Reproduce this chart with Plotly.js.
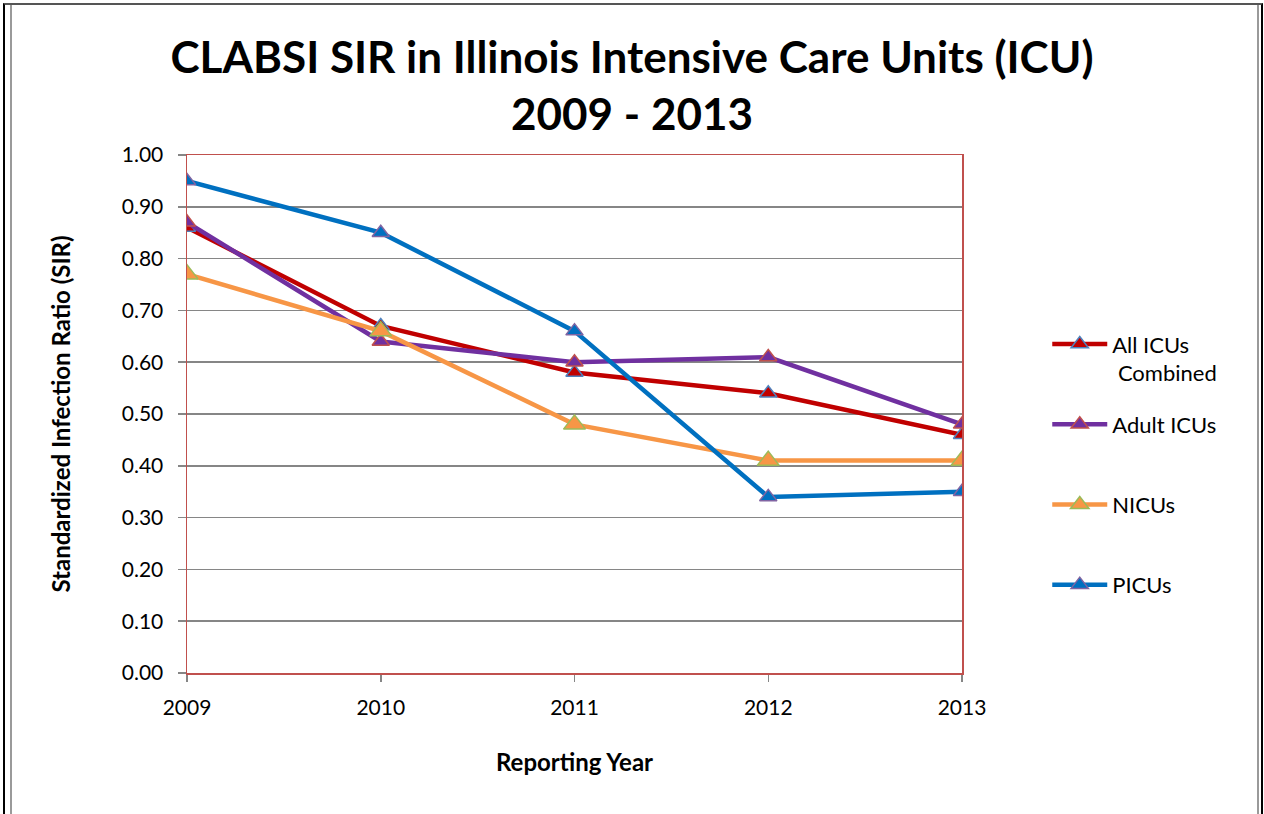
<!DOCTYPE html>
<html>
<head>
<meta charset="utf-8">
<script src="https://cdn.plot.ly/plotly-3.0.1.min.js"></script>
<style>
  html, body { margin: 0; padding: 0; background: #fff; }
  #wrap { position: relative; width: 1264px; height: 814px; overflow: hidden; }
  #chart { position: absolute; left: 0; top: 0; width: 1264px; height: 814px; }
  #outer { position: absolute; left: 3px; top: 3px; width: 1256px; height: 830px;
           border-left: 2px solid #000; border-right: 2px solid #000; border-top: 2px solid #555; pointer-events: none; }
  #inner { position: absolute; left: 10px; top: 5px; width: 1245px; height: 830px;
           border-left: 2px solid #9a9a9a; border-right: 2px solid #9a9a9a; pointer-events: none; }
</style>
</head>
<body>
<div id="wrap">
  <div id="chart"></div>
  <div id="outer"></div>
  <div id="inner"></div>
</div>
<script>
const years = [2009, 2010, 2011, 2012, 2013];
const yearLabels = ['2009', '2010', '2011', '2012', '2013'];
const allICUs = [0.86, 0.67, 0.58, 0.54, 0.46];
const adultICUs = [0.87, 0.64, 0.60, 0.61, 0.48];
const NICUs = [0.77, 0.66, 0.48, 0.41, 0.41];
const PICUs = [0.95, 0.85, 0.66, 0.34, 0.35];
const seriesNames = ['All ICUs<br>\u00a0Combined', 'Adult ICUs<br>\u00a0', 'NICUs<br>\u00a0', 'PICUs<br>\u00a0'];
const yTickVals = [0, 0.1, 0.2, 0.3, 0.4, 0.5, 0.6, 0.7, 0.8, 0.9, 1.0];
const yTickText = ['0.00', '0.10', '0.20', '0.30', '0.40', '0.50', '0.60', '0.70', '0.80', '0.90', '1.00'];

const FONT = 'Lato, "Open Sans", sans-serif';

function tr(y, name, lineColor, fillColor, outlineColor, size, group) {
  return {
    x: years, y: y, name: name, type: 'scatter', mode: 'lines+markers',
    legendgroup: group,
    line: { color: lineColor, width: 4.5 },
    marker: { symbol: 'triangle-up', size: size, color: fillColor, line: { color: outlineColor, width: 1.5 } }
  };
}

const data = [
  tr(allICUs, seriesNames[0], '#c00000', '#c00000', '#4f81bd', 15, 'a'),
  tr(adultICUs, seriesNames[1], '#7030a0', '#7030a0', '#c0504d', 15, 'b'),
  tr(NICUs, seriesNames[2], '#f79646', '#f79646', '#9bbb59', 19, 'c'),
  tr(PICUs, seriesNames[3], '#0070c0', '#0070c0', '#8064a2', 15, 'd')
];

const layout = {
  width: 1264, height: 814,
  margin: { l: 187, r: 302, t: 155, b: 141, pad: 0 },
  paper_bgcolor: '#fff', plot_bgcolor: '#fff',
  font: { family: FONT, color: '#000', size: 21 },
  title: {
    text: '<b>CLABSI SIR in Illinois Intensive Care Units (ICU)<br>2009 - 2013</b>',
    font: { family: FONT, size: 44, color: '#000' },
    x: 0.5, xref: 'container', xanchor: 'center',
    y: 0.91, yref: 'container', yanchor: 'top'
  },
  xaxis: {
    range: [2009, 2013], tickvals: years, ticktext: yearLabels,
    showgrid: false, zeroline: false,
    showline: true, linecolor: '#c0504d', linewidth: 1.5, mirror: true,
    ticks: 'outside', ticklen: 7, tickcolor: '#868686', tickwidth: 1.5,
    ticklabelstandoff: 8,
    tickfont: { family: FONT, size: 21, color: '#000' },
    title: { text: '<b>Reporting Year</b>', font: { family: FONT, size: 24, color: '#000' }, standoff: 36 }
  },
  yaxis: {
    range: [0, 1], tickvals: yTickVals, ticktext: yTickText,
    showgrid: true, gridcolor: '#868686', gridwidth: 1.5, zeroline: false,
    showline: true, linecolor: '#c0504d', linewidth: 1.5, mirror: true,
    ticks: 'outside', ticklen: 8, tickcolor: '#868686', tickwidth: 1.5,
    ticklabelstandoff: 10,
    tickfont: { family: FONT, size: 21, color: '#000' },
    title: { text: '<b>Standardized Infection Ratio (SIR)</b>', font: { family: FONT, size: 24, color: '#000' }, standoff: 44 }
  },
  showlegend: true,
  legend: {
    x: 1.11, xanchor: 'left', y: 0.375, yanchor: 'middle',
    font: { family: FONT, size: 22, color: '#000' },
    valign: 'top', traceorder: 'grouped', tracegroupgap: 20,
    itemwidth: 55, bgcolor: 'rgba(0,0,0,0)', borderwidth: 0
  }
};

Plotly.newPlot('chart', data, layout, { staticPlot: true, displayModeBar: false });
</script>
</body>
</html>
